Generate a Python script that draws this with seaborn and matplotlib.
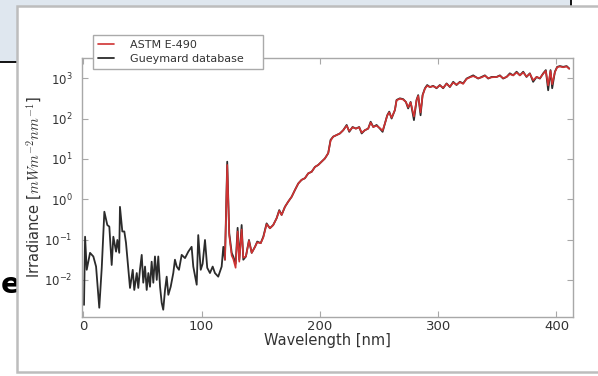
import numpy as np
import pandas as pd
import matplotlib
matplotlib.use("Agg")
import matplotlib.pyplot as plt
import seaborn as sns
from matplotlib.patches import Rectangle
from matplotlib.ticker import FixedLocator, NullLocator, LogFormatterMathtext

# ---------------- data ----------------
gueymard_wl = [0.5, 1.4, 2.8, 5.6, 8.4, 10.7, 13.4, 15.5, 17.7, 20.2,
               21.9, 23.9, 25.3, 27.6, 28.7, 30.3, 30.9, 32.9, 34.6, 36.0,
               38.0, 39.4, 41.7, 43.0, 45.1, 46.4, 47.8, 49.3, 50.6, 52.1,
               53.5, 54.9, 56.3, 57.7, 59.1, 60.5, 62.0, 63.3, 64.8, 66.2,
               67.5, 69.0, 70.4, 71.8, 73.8, 76.0, 77.4, 78.9, 80.8, 83.1,
               85.9, 88.7, 91.5, 92.9, 95.8, 97.1, 99.2, 100.8, 102.8, 104.7,
               107.0, 109.3, 111.2, 114.0, 116.9, 118.3, 119.7, 121.6, 123.3, 125.4,
               126.7, 128.7, 130.4, 131.8, 133.8, 135.2, 137.4, 140.0, 142.3, 145.1,
               147.0, 149.9, 152.1, 154.9, 157.7, 160.5, 163.4, 165.6, 167.6, 170.4,
               173.2, 176.1, 178.9, 181.7, 184.5, 187.3, 190.1, 193.0, 195.8, 198.6,
               201.4, 204.2, 207.0, 209.0, 211.2, 214.1, 216.9, 219.7, 222.6, 224.8,
               227.6, 230.4, 233.2, 235.3, 238.0, 240.8, 242.9, 245.1, 247.9, 250.7,
               253.0, 255.0, 256.9, 258.6, 260.6, 263.4, 264.8, 267.6, 270.4, 272.7,
               274.6, 276.7, 279.5, 281.7, 283.1, 285.1, 286.8, 288.8, 290.7, 293.0,
               295.8, 298.6, 301.4, 304.2, 307.1, 309.9, 312.7, 315.5, 318.3, 321.1,
               324.0, 326.8, 329.6, 333.8, 336.7, 339.5, 342.3, 345.1, 349.4, 352.2,
               354.9, 357.8, 360.6, 363.4, 366.3, 369.1, 371.9, 374.7, 377.5, 380.3,
               383.2, 386.0, 388.8, 391.0, 393.0, 395.0, 396.4, 398.7, 400.6, 402.9,
               405.7, 408.6, 410.8]
# log10 of irradiance [mW m^-2 nm^-1]
gueymard_log10 = [-2.62, -0.93, -1.75, -1.33, -1.42, -1.67, -2.69, -1.70, -0.31, -0.64,
                  -0.68, -1.63, -0.93, -1.30, -1.01, -1.33, -0.19, -0.80, -0.80, -1.08,
                  -1.75, -2.20, -1.75, -2.25, -1.83, -2.20, -1.75, -1.38, -2.07, -1.67,
                  -2.25, -1.83, -2.17, -1.55, -2.07, -1.42, -2.00, -1.42, -2.17, -2.57,
                  -2.74, -2.25, -1.92, -2.37, -2.17, -1.83, -1.50, -1.67, -1.75, -1.38,
                  -1.46, -1.30, -1.18, -1.67, -2.12, -0.89, -1.75, -1.60, -1.01, -1.70,
                  -1.83, -1.67, -1.83, -1.92, -1.67, -1.18, -1.50, 0.93, -0.84, -1.33,
                  -1.42, -1.60, -0.71, -1.50, -0.64, -1.50, -1.42, -1.01, -1.33, -1.18,
                  -1.05, -1.09, -0.93, -0.60, -0.72, -0.64, -0.47, -0.27, -0.39, -0.19,
                  -0.06, 0.06, 0.23, 0.39, 0.48, 0.52, 0.64, 0.68, 0.80, 0.85,
                  0.93, 1.01, 1.14, 1.47, 1.55, 1.59, 1.63, 1.71, 1.84, 1.67,
                  1.79, 1.75, 1.79, 1.63, 1.71, 1.75, 1.92, 1.79, 1.84, 1.75,
                  1.67, 1.88, 2.08, 2.17, 2.00, 2.21, 2.46, 2.50, 2.48, 2.41,
                  2.25, 2.41, 1.96, 2.46, 2.58, 2.08, 2.58, 2.75, 2.83, 2.78,
                  2.81, 2.75, 2.83, 2.75, 2.87, 2.78, 2.91, 2.83, 2.91, 2.87,
                  2.99, 3.03, 3.07, 2.99, 3.03, 3.07, 2.99, 3.03, 3.03, 3.07,
                  2.99, 3.03, 3.12, 3.07, 3.16, 3.07, 3.16, 3.03, 3.12, 2.91,
                  3.03, 2.99, 3.12, 3.20, 2.70, 3.20, 2.75, 3.16, 3.28, 3.30,
                  3.28, 3.30, 3.24]

astm_wl = [119.7, 121.6, 123.3, 125.4, 126.7, 128.7, 130.4, 131.8, 133.8, 135.2,
           137.4, 140.0, 142.3, 145.1, 147.0, 149.9, 152.1, 154.9, 157.7, 160.5,
           163.4, 165.6, 167.6, 170.4, 173.2, 176.1, 178.9, 181.7, 184.5, 187.3,
           190.1, 193.0, 195.8, 198.6, 201.4, 204.2, 207.0, 209.0, 211.2, 214.1,
           216.9, 219.7, 222.6, 224.8, 227.6, 230.4, 233.2, 235.3, 238.0, 240.8,
           242.9, 245.1, 247.9, 250.7, 253.0, 255.0, 256.9, 258.6, 260.6, 263.4,
           264.8, 267.6, 270.4, 272.7, 274.6, 276.7, 279.5, 281.7, 283.1, 285.1,
           286.8, 288.8, 290.7, 293.0, 295.8, 298.6, 301.4, 304.2, 307.1, 309.9,
           312.7, 315.5, 318.3, 321.1, 324.0, 326.8, 329.6, 333.8, 336.7, 339.5,
           342.3, 345.1, 349.4, 352.2, 354.9, 357.8, 360.6, 363.4, 366.3, 369.1,
           371.9, 374.7, 377.5, 380.3, 383.2, 386.0, 388.8, 391.0, 393.0, 395.0,
           396.4, 398.7, 400.6, 402.9, 405.7, 408.6, 410.8]
astm_log10 = [-1.50, 0.85, -0.90, -1.40, -1.48, -1.70, -0.80, -1.55, -0.75, -1.45,
              -1.42, -1.03, -1.33, -1.18, -1.07, -1.09, -0.95, -0.62, -0.72, -0.64,
              -0.47, -0.29, -0.39, -0.19, -0.06, 0.06, 0.23, 0.39, 0.48, 0.52,
              0.64, 0.68, 0.80, 0.85, 0.93, 1.01, 1.14, 1.45, 1.55, 1.59,
              1.63, 1.71, 1.82, 1.69, 1.78, 1.75, 1.78, 1.65, 1.71, 1.75,
              1.90, 1.79, 1.82, 1.76, 1.70, 1.88, 2.07, 2.15, 2.02, 2.21,
              2.45, 2.49, 2.47, 2.41, 2.28, 2.40, 2.05, 2.45, 2.56, 2.15,
              2.57, 2.74, 2.81, 2.78, 2.80, 2.76, 2.82, 2.76, 2.86, 2.79,
              2.89, 2.84, 2.90, 2.86, 2.98, 3.02, 3.05, 3.00, 3.02, 3.06,
              3.00, 3.02, 3.03, 3.06, 3.00, 3.03, 3.10, 3.07, 3.14, 3.07,
              3.14, 3.04, 3.11, 2.95, 3.03, 3.00, 3.11, 3.18, 2.82, 3.18,
              2.85, 3.15, 3.27, 3.29, 3.27, 3.29, 3.23]

series_labels = ["ASTM E-490", "Gueymard database"]
x_ticks = [0, 100, 200, 300, 400]
y_ticks = [1e-2, 1e-1, 1e0, 1e1, 1e2, 1e3]

gueymard = pd.DataFrame({"wl": gueymard_wl, "irr": 10.0 ** np.array(gueymard_log10)})
astm = pd.DataFrame({"wl": astm_wl, "irr": 10.0 ** np.array(astm_log10)})

# ---------------- style ----------------
sns.set_theme(style="white")
plt.rcParams["font.family"] = ["DejaVu Sans"]
plt.rcParams["mathtext.fontset"] = "dejavusans"
plt.rcParams["axes.unicode_minus"] = False

W, H = 598, 376
fig = plt.figure(figsize=(W / 100, H / 100), dpi=100)
fig.patch.set_facecolor("white")

# slide background decorations (screenshot context)
fig.add_artist(Rectangle((-0.01, 1 - 62 / H), 571 / W + 0.01, 62 / H + 0.01,
                         transform=fig.transFigure, facecolor="#dfe7ef",
                         edgecolor="black", lw=1.3, zorder=-5))
fig.text(0.5 / W, 1 - 285 / H, "e", ha="left", va="center", fontsize=21,
         fontweight="bold", color="black", zorder=-4)
fig.add_artist(Rectangle((17 / W, 1 - 372 / H), 1.0, (372 - 6) / H,
                         transform=fig.transFigure, facecolor="white",
                         edgecolor="#bdbdbd", lw=1.8, zorder=-3))

ax = fig.add_axes([82 / W, 1 - 317 / H, (573 - 82) / W, (317 - 58) / H])
ax.set_facecolor("white")

red = "#d03232"
dark = "#2b2b2b"
sns.lineplot(data=gueymard, x="wl", y="irr", ax=ax, color=dark, lw=1.3,
             label=series_labels[1], estimator=None, sort=False, zorder=2)
sns.lineplot(data=astm, x="wl", y="irr", ax=ax, color=red, lw=1.2,
             label=series_labels[0], estimator=None, sort=False, zorder=3)

ax.set_yscale("log")
ax.set_xlim(-1.2, 414)
ax.set_ylim(10 ** -2.92, 10 ** 3.5)
ax.xaxis.set_major_locator(FixedLocator(x_ticks))
ax.yaxis.set_major_locator(FixedLocator(y_ticks))
ax.yaxis.set_major_formatter(LogFormatterMathtext())
ax.yaxis.set_minor_locator(NullLocator())
ax.xaxis.set_minor_locator(NullLocator())

for s in ax.spines.values():
    s.set_color("#a8a8a8")
    s.set_linewidth(1.0)
ax.tick_params(axis="both", which="major", direction="in", length=4, width=0.8,
               color="#a8a8a8", labelcolor="#333333", labelsize=9.5,
               top=True, right=True, bottom=True, left=True)
ax.tick_params(axis="x", pad=2.5)
ax.tick_params(axis="y", pad=7, labelsize=8.5)

ax.set_xlabel("Wavelength [nm]", fontsize=10.5, color="#333333", labelpad=0)
ax.set_ylabel("Irradiance [$mWm^{-2}nm^{-1}$]", fontsize=10.5, color="#333333",
              math_fontfamily="cm")
ax.yaxis.set_label_coords(-0.077, 0.5)

handles, labels = ax.get_legend_handles_labels()
order = [labels.index(series_labels[0]), labels.index(series_labels[1])]
leg = ax.legend([handles[i] for i in order], [labels[i] for i in order],
                loc="upper left", bbox_to_anchor=(0.022, 0.5, 0.346, 0.59),
                mode="expand", borderaxespad=0,
                fontsize=8, handlelength=1.5, handletextpad=1.4,
                frameon=True, fancybox=False, framealpha=1, edgecolor="#aaaaaa",
                labelcolor="#333333", borderpad=0.45, labelspacing=0.35)
leg.get_frame().set_linewidth(1.0)
leg.set_zorder(5)

fig.savefig("out.png", dpi=100)
